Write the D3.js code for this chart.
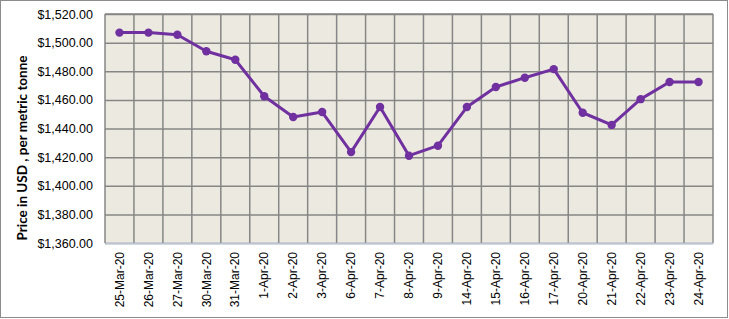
<!DOCTYPE html>
<html>
<head>
<meta charset="utf-8">
<script src="https://cdn.jsdelivr.net/npm/d3@7"></script>
<style>
  html, body { margin: 0; padding: 0; background: #fff; }
  svg { display: block; }
</style>
</head>
<body>
<svg id="chart" width="729" height="319"></svg>
<script>
// dates on the category axis
const dates = ["25-Mar-20", "26-Mar-20", "27-Mar-20", "30-Mar-20", "31-Mar-20",
  "1-Apr-20", "2-Apr-20", "3-Apr-20", "6-Apr-20", "7-Apr-20", "8-Apr-20",
  "9-Apr-20", "14-Apr-20", "15-Apr-20", "16-Apr-20", "17-Apr-20", "20-Apr-20",
  "21-Apr-20", "22-Apr-20", "23-Apr-20", "24-Apr-20"];
// price in USD per metric tonne
const prices = [1507, 1507, 1505.5, 1494, 1488, 1462.5, 1448, 1451.5, 1423.5,
  1455, 1421, 1428, 1455, 1469, 1475.5, 1481.5, 1451, 1442.5, 1460.5, 1472.5, 1472.5];
const yTicks = [1360, 1380, 1400, 1420, 1440, 1460, 1480, 1500, 1520];

const svg = d3.select("#chart");
const W = 729, H = 319;
const margin = {top: 14, right: 16, bottom: 76, left: 105};
const iw = W - margin.left - margin.right,
  ih = H - margin.top - margin.bottom;

// outer frame
svg.append("rect")
  .attr("x", 0.5).attr("y", 0.5)
  .attr("width", W - 2).attr("height", H - 2)
  .attr("fill", "#fff").attr("stroke", "#8c8c8c").attr("stroke-width", 1);

const g = svg.append("g").attr("transform", "translate(" + margin.left + "," + margin.top + ")");

const x = d3.scaleBand().domain(dates).range([0, iw]).padding(0);
const y = d3.scaleLinear().domain([1360, 1520]).range([ih, 0]);

g.append("rect").attr("width", iw).attr("height", ih).attr("fill", "#ECEAE0");

// horizontal grid
g.append("g")
  .call(d3.axisLeft(y).tickValues(yTicks).tickSize(-iw).tickFormat(""))
  .call(a => a.select(".domain").remove())
  .call(a => a.selectAll("line").attr("stroke", "#868686").attr("stroke-width", 1.5));

// vertical grid at category boundaries
g.append("g").selectAll("line")
  .data(dates)
  .join("line")
  .attr("x1", d => x(d) + x.bandwidth())
  .attr("x2", d => x(d) + x.bandwidth())
  .attr("y1", 0).attr("y2", ih)
  .attr("stroke", "#868686").attr("stroke-width", 1.5);
g.append("line")
  .attr("x1", 0).attr("x2", 0).attr("y1", 0).attr("y2", ih)
  .attr("stroke", "#868686").attr("stroke-width", 1.5);
g.append("line")
  .attr("x1", 0).attr("x2", iw).attr("y1", 0).attr("y2", 0)
  .attr("stroke", "#868686").attr("stroke-width", 1.5);

// y axis labels
const fmt = d3.format("$,.2f");
g.append("g")
  .call(d3.axisLeft(y).tickValues(yTicks).tickSize(0).tickPadding(12).tickFormat(fmt))
  .call(a => a.select(".domain").remove())
  .call(a => a.selectAll("text")
    .attr("font-family", "'Liberation Sans', Arial, sans-serif")
    .attr("font-size", "12.5px").attr("fill", "#000"));

// x axis
const xa = g.append("g").attr("transform", "translate(0," + ih + ")")
  .call(d3.axisBottom(x).tickSize(0).tickPadding(0));
xa.select(".domain").attr("stroke", "#b9c3d6").attr("stroke-width", 1.5);
xa.selectAll("text")
  .attr("font-family", "'Liberation Sans', Arial, sans-serif")
  .attr("font-size", "12px").attr("fill", "#000")
  .attr("text-anchor", "end")
  .attr("transform", "rotate(-90)")
  .attr("x", -9).attr("y", 0).attr("dy", "0.35em");

// y axis title
svg.append("text")
  .attr("transform", "translate(27,148) rotate(-90)")
  .attr("text-anchor", "middle")
  .attr("font-family", "Lato, 'Open Sans', sans-serif")
  .attr("font-weight", "bold").attr("font-size", "13.5px")
  .text("Price in USD , per metric tonne");

// line and markers
const line = d3.line()
  .x((d, i) => x(dates[i]) + x.bandwidth() / 2)
  .y(d => y(d));
g.append("path").datum(prices)
  .attr("d", line).attr("fill", "none")
  .attr("stroke", "#7030A0").attr("stroke-width", 3).attr("stroke-linejoin", "round");
g.append("g").selectAll("circle")
  .data(prices).join("circle")
  .attr("cx", (d, i) => x(dates[i]) + x.bandwidth() / 2)
  .attr("cy", d => y(d))
  .attr("r", 4.2).attr("fill", "#7030A0");
</script>
</body>
</html>
